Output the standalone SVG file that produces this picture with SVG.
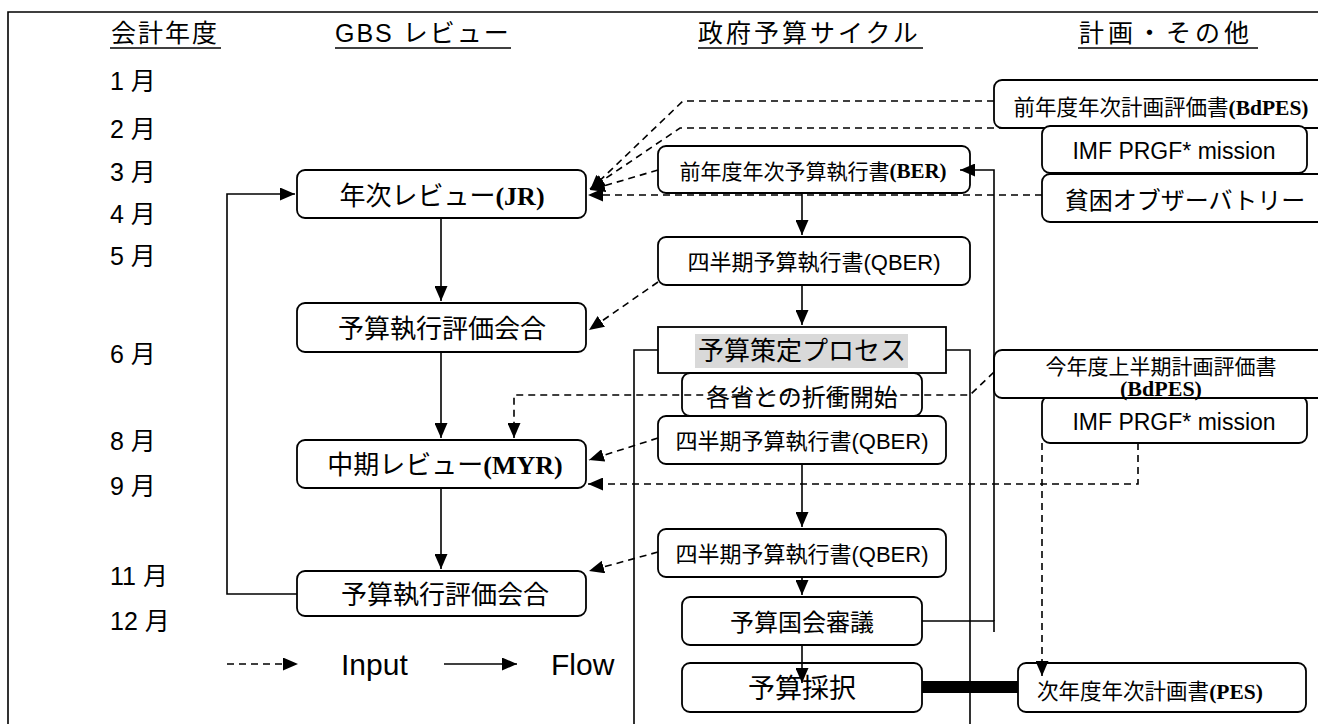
<svg xmlns="http://www.w3.org/2000/svg" width="1318" height="724" viewBox="0 0 1318 724">
<defs>
<style>
.t{font-family:"Liberation Sans","Noto Sans CJK JP",sans-serif;fill:#000}
.s{font-family:"Liberation Serif","Noto Sans CJK JP",serif;font-weight:bold}
.h{font-family:"Liberation Sans","Noto Sans CJK JP",sans-serif;fill:#000;font-size:25px}
.box{fill:#fff;stroke:#000;stroke-width:1.8}
.ln{fill:none;stroke:#000;stroke-width:1.6}
.ds{fill:none;stroke:#000;stroke-width:1.6;stroke-dasharray:7 5}
.ul{stroke:#000;stroke-width:1.6}
</style>
<marker id="ah" viewBox="0 0 15 13" refX="15" refY="6.5" markerWidth="15" markerHeight="13" markerUnits="userSpaceOnUse" orient="auto">
<path d="M0,0 L15,6.5 L0,13 z" fill="#000"/>
</marker>
</defs>
<rect width="1318" height="724" fill="#fff"/>
<path class="ln" d="M8,730 V12 H1330"/>

<g id="headers">
<text class="h" x="111" y="42" letter-spacing="2">会計年度</text>
<line class="ul" x1="110" y1="48" x2="221" y2="48"/>
<text class="h" x="335" y="42" letter-spacing="2">GBS レビュー</text>
<line class="ul" x1="335" y1="48" x2="511" y2="48"/>
<text class="h" x="698" y="42" letter-spacing="3">政府予算サイクル</text>
<line class="ul" x1="698" y1="48" x2="923" y2="48"/>
<text class="h" x="1079" y="42" letter-spacing="4">計画・その他</text>
<line class="ul" x1="1078" y1="48" x2="1258" y2="48"/>
</g>

<g id="months" class="t" font-size="25">
<text x="110" y="90">1 月</text>
<text x="110" y="138">2 月</text>
<text x="110" y="181">3 月</text>
<text x="110" y="223">4 月</text>
<text x="110" y="265">5 月</text>
<text x="110" y="363">6 月</text>
<text x="110" y="450">8 月</text>
<text x="110" y="495">9 月</text>
<text x="110" y="585">11 月</text>
<text x="110" y="630">12 月</text>
</g>

<g id="budget-frame">
<path class="ln" d="M634,740 V350 H970 V740"/>
</g>

<g id="jr"><rect class="box" x="297" y="170" width="289" height="48" rx="8"/>
<text class="t" x="442" y="196" font-size="26" text-anchor="middle" dominant-baseline="central">年次レビュー<tspan class="s">(JR)</tspan></text></g>
<g id="eval1"><rect class="box" x="297" y="303" width="289" height="49" rx="8"/>
<text class="t" x="442" y="329" font-size="26" text-anchor="middle" dominant-baseline="central">予算執行評価会合</text></g>
<g id="myr"><rect class="box" x="297" y="440" width="289" height="48" rx="8"/>
<text class="t" x="445" y="465" font-size="26" text-anchor="middle" dominant-baseline="central">中期レビュー<tspan class="s">(MYR)</tspan></text></g>
<g id="eval2"><rect class="box" x="297" y="571" width="289" height="45" rx="8"/>
<text class="t" x="445" y="595" font-size="26" text-anchor="middle" dominant-baseline="central">予算執行評価会合</text></g>

<g id="ber"><rect class="box" x="658" y="146" width="312" height="47" rx="8"/>
<text class="t" x="813" y="171" font-size="21" text-anchor="middle" dominant-baseline="central">前年度年次予算執行書<tspan class="s">(BER)</tspan></text></g>
<g id="qber1"><rect class="box" x="658" y="237" width="312" height="48" rx="8"/>
<text class="t" x="814" y="262" font-size="22" text-anchor="middle" dominant-baseline="central">四半期予算執行書(QBER)</text></g>
<g id="process"><rect class="box" x="658" y="327" width="288" height="46"/>
<rect x="695" y="334" width="213" height="34" fill="#d9d9d9"/>
<text class="t" x="802" y="351" font-size="26" text-anchor="middle" dominant-baseline="central">予算策定プロセス</text></g>
<g id="negotiation"><rect class="box" x="682" y="373" width="240" height="43" rx="8"/>
<text class="t" x="802" y="397" font-size="24" text-anchor="middle" dominant-baseline="central">各省との折衝開始</text></g>
<g id="qber2"><rect class="box" x="658" y="416" width="288" height="48" rx="8"/>
<text class="t" x="802" y="441" font-size="22" text-anchor="middle" dominant-baseline="central">四半期予算執行書(QBER)</text></g>
<g id="qber3"><rect class="box" x="658" y="529" width="288" height="48" rx="8"/>
<text class="t" x="802" y="554" font-size="22" text-anchor="middle" dominant-baseline="central">四半期予算執行書(QBER)</text></g>
<g id="parliament"><rect class="box" x="682" y="597" width="240" height="48" rx="8"/>
<text class="t" x="802" y="622" font-size="24" text-anchor="middle" dominant-baseline="central">予算国会審議</text></g>
<g id="adoption"><rect class="box" x="682" y="663" width="240" height="49" rx="8"/>
<text class="t" x="802" y="689" font-size="27" text-anchor="middle" dominant-baseline="central">予算採択</text></g>

<g id="bdpes1"><rect class="box" x="994" y="80" width="340" height="48" rx="8"/>
<text class="t" x="1161" y="108" font-size="21.5" text-anchor="middle" dominant-baseline="central">前年度年次計画評価書<tspan class="s">(BdPES)</tspan></text></g>
<g id="imf1"><rect class="box" x="1042" y="126" width="265" height="47" rx="8"/>
<text class="t" x="1174" y="151" font-size="23" text-anchor="middle" dominant-baseline="central">IMF PRGF* mission</text></g>
<g id="poverty"><rect class="box" x="1042" y="174" width="292" height="48" rx="8"/>
<text class="t" x="1185" y="200" font-size="24" text-anchor="middle" dominant-baseline="central">貧困オブザーバトリー</text></g>
<g id="imf2"><rect class="box" x="1042" y="396" width="265" height="47" rx="8"/>
<text class="t" x="1174" y="422" font-size="23" text-anchor="middle" dominant-baseline="central">IMF PRGF* mission</text></g>
<g id="bdpes2"><rect class="box" x="994" y="350" width="340" height="48" rx="8"/>
<text class="t" x="1161" y="366" font-size="21" text-anchor="middle" dominant-baseline="central">今年度上半期計画評価書</text>
<text class="s" x="1161" y="388" font-size="22" text-anchor="middle" dominant-baseline="central">(BdPES)</text></g>
<g id="pes"><rect class="box" x="1018" y="663" width="288" height="49" rx="8"/>
<text class="t" x="1150" y="692" font-size="21.5" text-anchor="middle" dominant-baseline="central">次年度年次計画書<tspan class="s">(PES)</tspan></text></g>

<g id="connectors">
<path class="ln" d="M441,218 V301" marker-end="url(#ah)"/>
<path class="ln" d="M441,352 V438" marker-end="url(#ah)"/>
<path class="ln" d="M441,488 V569" marker-end="url(#ah)"/>
<path class="ln" d="M297,594 H227 V194 H295" marker-end="url(#ah)"/>
<path class="ln" d="M802,193 V235" marker-end="url(#ah)"/>
<path class="ln" d="M802,285 V325" marker-end="url(#ah)"/>
<path class="ln" d="M802,464 V527" marker-end="url(#ah)"/>
<path class="ln" d="M802,577 V595" marker-end="url(#ah)"/>
<path class="ln" d="M802,645 V683" marker-end="url(#ah)"/>
<path class="ln" d="M994,632 V621 H922"/>
<path class="ln" d="M994,621 V170 H960" marker-end="url(#ah)"/>
<rect x="922" y="681" width="96" height="12" fill="#000"/>
<path class="ds" d="M994,101 H683 L590,190" marker-end="url(#ah)"/>
<path class="ds" d="M1042,128 H680 L590,189" marker-end="url(#ah)"/>
<path class="ds" d="M658,170 L590,190" marker-end="url(#ah)"/>
<path class="ds" d="M1042,195 H588" marker-end="url(#ah)"/>
<path class="ds" d="M658,282 L589,330" marker-end="url(#ah)"/>
<path class="ds" d="M658,438 L589,460" marker-end="url(#ah)"/>
<path class="ds" d="M658,552 L589,571" marker-end="url(#ah)"/>
<path class="ds" d="M994,372 L970,395 H514 V438" marker-end="url(#ah)"/>
<path class="ds" d="M1138,443 V484 H588" marker-end="url(#ah)"/>
<path class="ds" d="M1042,443 V676" marker-end="url(#ah)"/>
</g>

<g id="legend">
<path class="ds" d="M227,664 H298" marker-end="url(#ah)"/>
<text class="t" x="341" y="675" font-size="30">Input</text>
<path class="ln" d="M444,664 H517" marker-end="url(#ah)"/>
<text class="t" x="551" y="675" font-size="30">Flow</text>
</g>
</svg>
